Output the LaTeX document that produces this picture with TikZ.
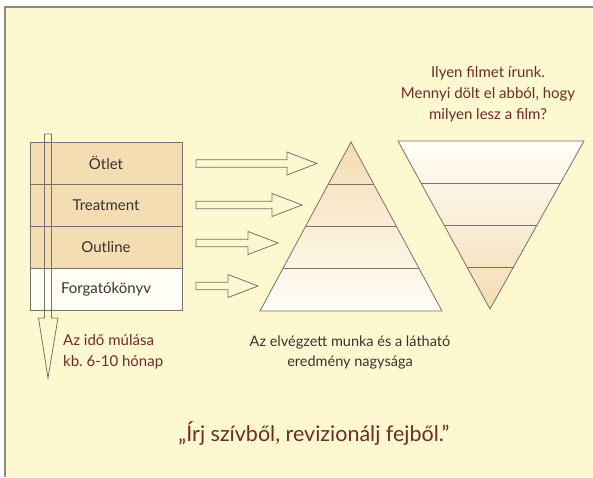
\documentclass[tikz,border=0pt]{standalone}
\usepackage{fontspec}
\setmainfont{Lato}
\usepackage{xcolor}
\usepackage{tikz}
\usetikzlibrary{calc}
\definecolor{bgyellow}{HTML}{FDF8D0}
\definecolor{ctan}{HTML}{F4DCB3}
\definecolor{cwhite}{HTML}{FFFEF6}
\definecolor{dbrown}{HTML}{6E2C26}
\definecolor{dtext}{HTML}{3B322E}
\definecolor{lgray}{HTML}{76726A}
\definecolor{fgray}{HTML}{8A8A86}

\begin{document}
\begin{tikzpicture}[x=1pt,y=-1pt,
    cell/.style={draw=lgray, line width=0.8pt, minimum width=152pt,
                 minimum height=42pt, inner sep=0pt, text=dtext,
                 font=\fontsize{15}{17}\selectfont},
    outline/.style={draw=lgray, line width=0.8pt, line join=miter},
    brownlabel/.style={text=dbrown, align=center, inner sep=0pt,
                 font=\fontsize{15}{21}\selectfont},
    darklabel/.style={text=dtext, align=center, inner sep=0pt,
                 font=\fontsize{14.5}{20}\selectfont}]

  \useasboundingbox (0,0) rectangle (593,477);

  % háttér és keret
  \fill[white] (0,0) rectangle (593,477);
  \fill[bgyellow] (5,7) rectangle (593,477);
  \draw[fgray, line width=1.4pt] (5,477) -- (5,7) -- (593,7);

  % blokknyíl: farok x, csúcs x, y
  \newcommand\blockarrow[3]{%
    \draw[outline] (#1,#3-3.8) -- (#2-30,#3-3.8) -- (#2-30,#3-11.5)
      -- (#2,#3) -- (#2-30,#3+11.5) -- (#2-30,#3+3.8) -- (#1,#3+3.8) -- cycle;}

  % fázisok táblázata
  \node[cell, fill=ctan]   (otlet)     at (106,163) {Ötlet};
  \node[cell, fill=ctan]   (treatment) at (106,205) {Treatment};
  \node[cell, fill=ctan]   (outline)   at (106,247) {Outline};
  \node[cell, fill=cwhite] (forgato)   at (106,289) {Forgatókönyv};

  % idő nyíl
  \draw[outline] (44.5,134) -- (51.5,134) -- (51.5,318) -- (58,318)
    -- (48,378) -- (38.5,318) -- (44.5,318) -- cycle;

  \node[brownlabel, anchor=west, align=left] (ido) at (63,352)
    {Az idő múlása\\kb.\ 6-10 hónap};

  % nyilak a piramis felé
  \blockarrow{196}{317}{163.5}
  \blockarrow{196}{302}{205}
  \blockarrow{196}{278}{243}
  \blockarrow{196}{258}{286}

  % piramis (munka)
  \coordinate (pcsucs) at (351,142);
  \coordinate (pbal)   at (260,311);
  \coordinate (pjobb)  at (442,311);
  \shade[top color=ctan, bottom color=cwhite] (pcsucs) -- (pbal) -- (pjobb) -- cycle;
  \draw[outline] (pcsucs) -- (pbal) -- (pjobb) -- cycle;
  \foreach \t in {0.25,0.5,0.75}
    \draw[outline] ($(pcsucs)!\t!(pbal)$) -- ($(pcsucs)!\t!(pjobb)$);

  % fordított piramis (film)
  \coordinate (fbal)   at (398,141);
  \coordinate (fjobb)  at (584,141);
  \coordinate (fcsucs) at (490,309);
  \shade[top color=cwhite, bottom color=ctan] (fbal) -- (fjobb) -- (fcsucs) -- cycle;
  \draw[outline] (fbal) -- (fjobb) -- (fcsucs) -- cycle;
  \foreach \t in {0.25,0.5,0.75}
    \draw[outline] ($(fbal)!\t!(fcsucs)$) -- ($(fjobb)!\t!(fcsucs)$);

  % feliratok
  \node[darklabel] (munka) at (350,352)
    {Az elvégzett munka és a látható\\eredmény nagysága};
  \node[brownlabel] (kerdes) at (488,94)
    {Ilyen filmet írunk.\\Mennyi dölt el abból, hogy\\milyen lesz a film?};
  \node[text=dbrown, font=\fontsize{21.5}{24}\selectfont] (motto) at (314,433)
    {„Írj szívből, revizionálj fejből.”};

\end{tikzpicture}
\end{document}
